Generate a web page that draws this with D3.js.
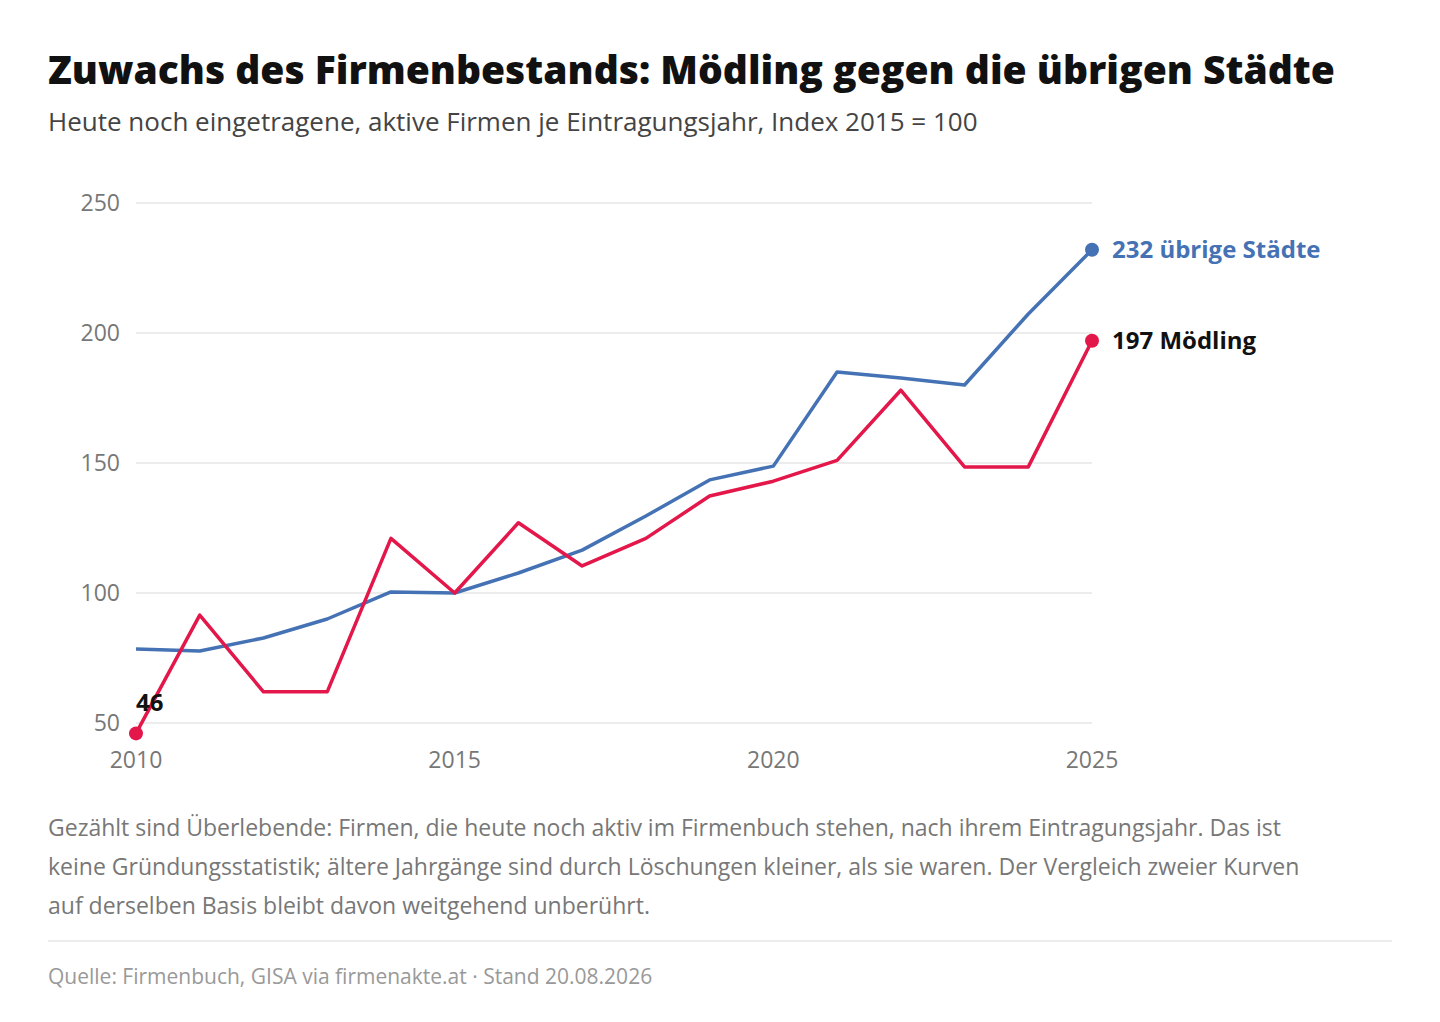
<!DOCTYPE html>
<html><head><meta charset="utf-8">
<script src="https://cdn.jsdelivr.net/npm/d3@7"></script>
<style>
body{margin:0;background:#fff;font-family:"Open Sans","Noto Sans",sans-serif;}
</style></head><body>
<svg id="c" width="1440" height="1022"></svg>
<script>
const years=[2010,2011,2012,2013,2014,2015,2016,2017,2018,2019,2020,2021,2022,2023,2024,2025];
const others=[78.5,77.7,82.7,90,100.4,100,107.7,116.5,129.6,143.5,148.8,185,182.7,180,207.3,232];
const moedling=[46,91.5,62,62,121,100,127,110.4,121,137.3,143,151,178,148.5,148.5,197];
const yTicks=[50,100,150,200,250];
const xTicks=[2010,2015,2020,2025];
const svg=d3.select("#c");
const x=d3.scaleLinear().domain([2010,2025]).range([136,1092]);
const y=d3.scaleLinear().domain([50,250]).range([723,203]);
svg.append("text").attr("x",48).attr("y",84).attr("font-size",39).attr("font-weight",800).attr("fill","#111").text("Zuwachs des Firmenbestands: Mödling gegen die übrigen Städte");
svg.append("text").attr("x",48).attr("y",131).attr("font-size",26).attr("fill","#444").text("Heute noch eingetragene, aktive Firmen je Eintragungsjahr, Index 2015 = 100");
const g=svg.append("g");
yTicks.forEach(t=>{
  g.append("line").attr("x1",136).attr("x2",1092).attr("y1",y(t)).attr("y2",y(t)).attr("stroke","#e6e6e6").attr("stroke-width",1.5);
  g.append("text").attr("x",120).attr("y",y(t)+8).attr("text-anchor","end").attr("font-size",23).attr("fill","#777").text(t);
});
xTicks.forEach(t=>g.append("text").attr("x",x(t)).attr("y",768).attr("text-anchor","middle").attr("font-size",23).attr("fill","#777").text(t));
const line=d3.line().x((d,i)=>x(years[i])).y(d=>y(d));
g.append("path").attr("d",line(others)).attr("fill","none").attr("stroke","#4472b4").attr("stroke-width",3.5).attr("stroke-linejoin","round");
g.append("path").attr("d",line(moedling)).attr("fill","none").attr("stroke","#e3174a").attr("stroke-width",3.5).attr("stroke-linejoin","round");
const L=years.length-1;
g.append("circle").attr("cx",x(2025)).attr("cy",y(others[L])).attr("r",7).attr("fill","#4472b4");
g.append("circle").attr("cx",x(2025)).attr("cy",y(moedling[L])).attr("r",7).attr("fill","#e3174a");
g.append("circle").attr("cx",x(2010)).attr("cy",y(moedling[0])).attr("r",7).attr("fill","#e3174a");
g.append("text").attr("x",1112).attr("y",y(others[L])+8).attr("font-size",24).attr("font-weight",700).attr("fill","#4472b4").text(others[L]+" übrige Städte");
g.append("text").attr("x",1112).attr("y",y(moedling[L])+8).attr("font-size",24).attr("font-weight",700).attr("fill","#111").text(moedling[L]+" Mödling");
g.append("text").attr("x",136).attr("y",y(moedling[0])-22).attr("font-size",24).attr("font-weight",700).attr("fill","#111").text(moedling[0]);
const notes=["Gezählt sind Überlebende: Firmen, die heute noch aktiv im Firmenbuch stehen, nach ihrem Eintragungsjahr. Das ist","keine Gründungsstatistik; ältere Jahrgänge sind durch Löschungen kleiner, als sie waren. Der Vergleich zweier Kurven","auf derselben Basis bleibt davon weitgehend unberührt."];
notes.forEach((n,i)=>svg.append("text").attr("x",48).attr("y",836+i*39).attr("font-size",23).attr("fill","#777").text(n));
svg.append("line").attr("x1",48).attr("x2",1392).attr("y1",941).attr("y2",941).attr("stroke","#e6e6e6").attr("stroke-width",1.5);
svg.append("text").attr("x",48).attr("y",984).attr("font-size",21).attr("fill","#999").text("Quelle: Firmenbuch, GISA via firmenakte.at · Stand 20.08.2026");
</script></body></html>
